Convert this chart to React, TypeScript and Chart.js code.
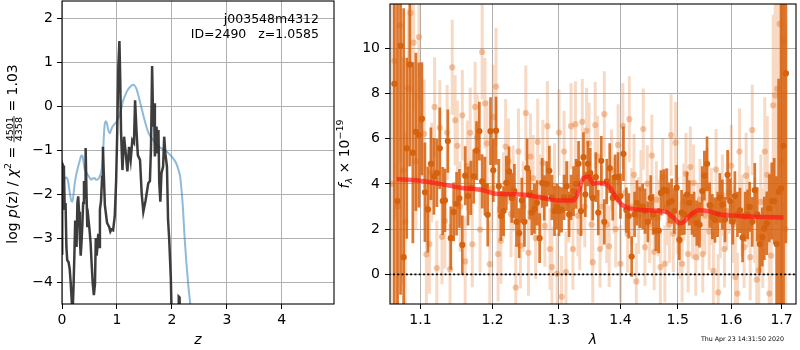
import React, { useEffect, useRef } from "react";
import { Chart, registerables } from "chart.js";

Chart.register(...registerables);

const FAMILY = "'DejaVu Sans', 'Liberation Sans', sans-serif";

// ---------------- left panel: log p(z) ----------------
const zTicks = [0, 1, 2, 3, 4];
const logpTicks = [-4, -3, -2, -1, 0, 1, 2];
const annotationLines = ["j003548m4312", "ID=2490   z=1.0585"];

const blackZ = [
  0.0, 0.004, 0.02, 0.035, 0.05, 0.065, 0.08, 0.095, 0.12, 0.14, 0.16, 0.18, 0.195, 0.21, 0.225, 0.24, 0.255, 0.265,
  0.28, 0.295, 0.31, 0.325, 0.34, 0.355, 0.37, 0.385, 0.4, 0.41, 0.42, 0.43, 0.445, 0.46, 0.48, 0.5, 0.52, 0.54, 0.56,
  0.58, 0.6, 0.615, 0.63, 0.645, 0.66, 0.675, 0.69, 0.71, 0.73, 0.745, 0.76, 0.78, 0.8, 0.82, 0.84, 0.86, 0.88, 0.9,
  0.93, 0.96, 0.985, 1.005, 1.025, 1.045, 1.06, 1.075, 1.1, 1.13, 1.16, 1.19, 1.22, 1.25, 1.28, 1.31, 1.33, 1.355,
  1.38, 1.42, 1.45, 1.48, 1.52, 1.57, 1.6, 1.62, 1.64, 1.66, 1.675, 1.69, 1.705, 1.72, 1.74, 1.755, 1.77, 1.79, 1.81,
  1.84, 1.86, 1.88, 1.91, 1.93, 1.95, 1.98, 2.0, 2.03, 2.08, 2.115, 2.125, 2.14, 2.15, 2.2,
];
const blackLogP = [
  -3.35, -1.3, -1.35, -1.45, -2.36, -2.2, -3.2, -3.5, -3.55, -3.7, -4.05, -4.5, -4.65, -4.1, -3.4, -2.6, -3.1, -3.2,
  -2.2, -2.05, -2.4, -3.0, -3.4, -3.1, -2.7, -2.2, -1.7, -2.1, -1.8, -0.95, -1.9, -2.75, -2.55, -2.8, -3.1, -3.6, -4.05,
  -4.3, -4.05, -3.0, -3.4, -3.2, -2.9, -3.2, -2.35, -2.15, -1.6, -0.92, -1.5, -2.25, -2.45, -2.65, -2.7, -2.75, -2.85, -2.8,
  -2.82, -2.5, -1.7, -0.6, 0.9, 1.49, 0.6, -0.6, -1.45, -0.69, -1.07, -1.48, -0.92, -1.22, -0.77, -0.83, 0.14, -0.54,
  -1.11, -1.22, -1.98, -2.4, -2.15, -1.75, -1.7, -0.92, 0.92, -0.46, 0.07, -1.14, -0.9, -0.46, -1.07, -0.54, -1.75, -2.17, -1.52,
  -1.37, -0.69, -1.07, -1.37, -2.58, -3.0, -3.9, -5.0, -6.5, -7.0, -5.5, -4.33, -4.35, -5.6, -7.0,
];

const blueZ = [
  0.0, 0.02, 0.05, 0.08, 0.11, 0.14, 0.17, 0.19, 0.21, 0.23, 0.26, 0.29, 0.32, 0.35, 0.37, 0.39, 0.41, 0.44, 0.47, 0.5,
  0.53, 0.56, 0.59, 0.62, 0.66, 0.69, 0.72, 0.745, 0.765, 0.78, 0.8, 0.82, 0.845, 0.87, 0.89, 0.92, 0.96, 1.0, 1.04,
  1.08, 1.11, 1.15, 1.19, 1.23, 1.27, 1.3, 1.33, 1.36, 1.39, 1.42, 1.46, 1.5, 1.54, 1.58, 1.62, 1.66, 1.7, 1.75, 1.8,
  1.87, 1.94, 2.02, 2.08, 2.12, 2.15, 2.17, 2.2, 2.23, 2.26, 2.3, 2.34, 2.37,
];
const blueLogP = [
  -2.05, -1.8, -1.64, -1.62, -1.7, -1.95, -2.15, -2.17, -2.0, -1.77, -1.55, -1.39, -1.25, -1.13, -1.12, -1.25, -1.42,
  -1.5, -1.56, -1.62, -1.67, -1.64, -1.63, -1.67, -1.65, -1.58, -1.45, -1.1, -0.6, -0.39, -0.34, -0.4, -0.55, -0.61,
  -0.55, -0.46, -0.4, -0.33, -0.22, -0.05, 0.12, 0.25, 0.36, 0.43, 0.48, 0.49, 0.46, 0.38, 0.25, 0.1, -0.1, -0.3, -0.48,
  -0.62, -0.7, -0.77, -0.84, -0.9, -0.95, -1.0, -1.07, -1.18, -1.3, -1.45, -1.6, -1.83, -2.3, -2.96, -3.5, -4.1, -4.6, -5.2,
];

// ---------------- right panel: spectrum ----------------
const lamTicks = [1.1, 1.2, 1.3, 1.4, 1.5, 1.6, 1.7];
const fluxTicks = [0, 2, 4, 6, 8, 10];
const timestamp = "Thu Apr 23 14:31:50 2020";

const darkWave = [
  1.066, 1.07, 1.074, 1.078, 1.082, 1.086, 1.09, 1.094, 1.098, 1.102, 1.106, 1.11, 1.114, 1.118, 1.122, 1.126, 1.13,
  1.133, 1.137, 1.141, 1.145, 1.149, 1.153, 1.157, 1.161, 1.165, 1.169, 1.173, 1.177, 1.181, 1.185, 1.189, 1.193, 1.197,
  1.201, 1.205, 1.209, 1.212, 1.216, 1.22, 1.224, 1.228, 1.232, 1.235, 1.239, 1.243, 1.247, 1.251, 1.255, 1.258, 1.262,
  1.266, 1.27, 1.274, 1.277, 1.281, 1.285, 1.289, 1.293, 1.297, 1.3, 1.304, 1.308, 1.312, 1.316, 1.319, 1.323, 1.327,
  1.331, 1.335, 1.339, 1.342, 1.346, 1.35,
  1.354, 1.359, 1.363, 1.368, 1.373, 1.377, 1.382, 1.387, 1.391, 1.396, 1.4, 1.405, 1.41, 1.414, 1.419, 1.424, 1.428,
  1.433, 1.438, 1.442, 1.447, 1.452, 1.456, 1.461, 1.466, 1.47, 1.475, 1.48, 1.484, 1.489, 1.494, 1.498, 1.503, 1.507,
  1.512, 1.517, 1.521, 1.526,
  1.53, 1.535, 1.54, 1.545, 1.549, 1.554, 1.559, 1.564, 1.569, 1.574, 1.578, 1.583, 1.588, 1.593, 1.598, 1.603, 1.607,
  1.612, 1.617, 1.622, 1.627, 1.632, 1.636, 1.641, 1.646, 1.651, 1.656, 1.661, 1.665, 1.67, 1.675, 1.68, 1.685, 1.69,
  1.694, 1.699, 1.704, 1.709,
];
const darkFlux = [
  8.42, 3.24, 10.1, 0.76, 5.57, 9.28, 5.38, 6.3, 6.16, 6.88, 3.63, 2.87, 4.89, 4.33, 4.48, 5.57, 3.24, 3.27, 5.89, 1.6,
  2.76, 3.12, 3.36, 1.3, 4.36, 3.46, 3.82, 4.33, 5.47, 6.33, 4.11, 3.9, 2.63, 6.33,
  4.6, 6.35, 3.9, 2.58, 2.8, 4.04, 4.55, 3.38, 3.68, 2.32, 1.82, 3.27, 2.32, 4.7, 3.53, 2.73, 2.9, 3.16, 1.6, 4.04,
  3.38, 4.0, 4.58, 3.4, 2.8, 3.0, 2.8, 2.85, 3.4, 3.9, 2.65, 3.4, 3.68, 4.0, 4.89, 2.8, 5.18, 3.53, 4.89, 4.48,
  3.38, 4.3, 2.73, 5.02, 2.32, 4.11, 4.7, 3.38, 4.3, 4.3, 3.46, 5.33, 2.84, 2.58, 0.79, 2.65, 3.16, 2.95, 3.0, 2.8,
  2.32, 3.38, 2.65, 1.93, 1.93, 3.6, 3.75, 3.68, 3.16, 3.24, 2.8, 3.83, 1.53, 2.73, 2.65, 3.53, 3.16, 2.65,
  2.65, 2.26, 2.19, 3.68, 4.36, 4.89, 3.06, 2.55, 2.4, 2.65, 3.38, 3.09, 2.42, 4.4, 3.24, 2.32, 3.46, 2.65, 2.83, 1.63,
  2.55, 2.65, 2.98, 2.32, 3.72, 2.65, 1.34, 1.65, 2.03, 2.26, 2.92, 3.24, 3.24, 1.34, 3.65, 3.8, 5.68, 8.88,
];
const darkErr = [
  10, 9, 11, 11, 4, 4.5, 4, 3.5, 3.2, 2.5, 2.2, 1.9, 1.6, 1.7, 1.5, 1.8, 1.5, 1.4, 1.4, 1.4,
  1.3, 1.4, 1.3, 1.3, 1.3, 1.3, 1.2, 1.2, 1.3, 1.3, 1.2, 1.3, 1.4, 1.5,
  1.4, 1.5, 1.2, 1.1, 1.1, 1.2, 1.1, 1.1, 1.2, 1.1, 1.1, 1.0, 1.1, 1.3, 1.1, 1.0, 1.1, 1.0, 1.1, 1.1,
  1.0, 1.0, 1.1, 1.0, 1.1, 1.0, 1.1, 1.0, 1.0, 1.1, 1.0, 1.0, 1.1, 1.1, 1.0, 1.1, 1.1, 1.0, 1.0, 1.1,
  1.0, 1.1, 1.0, 1.1, 1.0, 1.0, 1.1, 1.0, 1.0, 1.1, 1.0, 1.2, 1.0, 1.0, 0.9, 1.0, 1.0, 0.9, 1.0, 1.0,
  0.9, 1.0, 0.9, 0.9, 1.0, 1.0, 0.9, 1.0, 0.9, 1.0, 1.0, 1.0, 0.9, 1.0, 0.9, 1.0, 1.0, 0.9,
  1.0, 1.0, 1.0, 1.1, 1.1, 1.2, 1.0, 1.0, 1.0, 1.0, 1.1, 1.1, 1.0, 1.1, 1.0, 1.0, 1.1, 1.0, 1.0, 1.1,
  1.1, 1.1, 1.1, 1.1, 1.2, 1.2, 1.3, 1.3, 1.4, 1.4, 1.5, 1.7, 1.9, 3.0, 5, 9, 9, 7.5,
];

const lightWave = [
  1.063, 1.066, 1.07, 1.073, 1.077, 1.08, 1.084, 1.087, 1.091, 1.094, 1.098, 1.101, 1.105, 1.108, 1.112, 1.115, 1.119,
  1.122, 1.126, 1.129, 1.133, 1.136, 1.14, 1.143, 1.147, 1.15, 1.154, 1.157, 1.161, 1.164, 1.168, 1.171, 1.175, 1.178,
  1.182, 1.185, 1.189, 1.192, 1.196, 1.199,
  1.201, 1.205, 1.208, 1.212, 1.216, 1.219, 1.223, 1.227, 1.23, 1.234, 1.238, 1.241, 1.245, 1.249, 1.253, 1.256, 1.26,
  1.264, 1.267, 1.271, 1.275, 1.278, 1.282, 1.286, 1.289, 1.293, 1.297, 1.3, 1.304, 1.308, 1.311, 1.315, 1.319, 1.322,
  1.326, 1.33, 1.333, 1.337, 1.341, 1.344, 1.348, 1.352,
  1.354, 1.358, 1.362, 1.366, 1.369, 1.373, 1.377, 1.381, 1.385, 1.389, 1.392, 1.396, 1.4, 1.404, 1.408, 1.412, 1.415,
  1.419, 1.423, 1.427, 1.431, 1.435, 1.439, 1.442, 1.446, 1.45, 1.454, 1.458, 1.462, 1.465, 1.469, 1.473, 1.477, 1.481,
  1.485, 1.488, 1.492, 1.496, 1.5, 1.504, 1.508, 1.511, 1.515, 1.519, 1.523, 1.527,
  1.529, 1.533, 1.537, 1.541, 1.546, 1.55, 1.554, 1.558, 1.562, 1.566, 1.571, 1.575, 1.579, 1.583, 1.587, 1.591, 1.596,
  1.6, 1.604, 1.608, 1.612, 1.616, 1.621, 1.625, 1.629, 1.633, 1.637, 1.641, 1.646, 1.65, 1.654, 1.658, 1.662, 1.666,
  1.671, 1.675, 1.679, 1.683, 1.687, 1.691, 1.696, 1.7, 1.704, 1.708,
];
const lightFlux = [
  4.0, 9.44, 3.0, 11.0, 4.6, 2.33, 8.23, 11.55, 10.24, 5.0, 10.49, 6.8, 6.21, 0.88, 1.34, 4.5, 7.4, 0.28, 6.48, 1.66,
  2.36, 6.27, 0.23, 9.15, 6.81, 5.68, 3.0, 7.03, 0.57, 4.8, 6.26, 1.33, 7.4, 6.05, 1.98, 9.83, 7.56, 5.79, 0.45, 3.8,
  6.96, 8.3, 0.9, 1.49, 3.5, 5.65, 4.99, 2.66, 3.8, -0.58, 5.43, 1.27, 3.0, 7.13, 0.95, 5.21, 4.26, 1.6, 5.86, 3.4,
  4.92, 2.14, 6.55, 1.12, 0.32, 3.9, 0.03, 6.27, -0.99, 5.43, 0.1, 3.2, 6.55, 1.12, 6.64, 2.6, 1.88, 6.74, 3.0, 6.35,
  5.79, 2.2,
  0.54, 6.6, 5.21, 1.12, 3.0, 7.08, 2.2, 1.24, 4.6, 3.5, 2.0, 5.72, 0.47, 6.56, 3.6, 1.78, 6.86, 3.0, 4.4, -0.31,
  2.6, 3.8, 6.42, 1.2, 4.01, 2.2, 5.25, 1.0, 3.3, 2.5, 0.32, 4.3, 0.47, 3.0, 2.2, 6.16, 1.8, 5.82, 2.6, 1.49,
  0.47, 3.2, 4.45, 0.9, 4.74, 2.4,
  4.04, 0.76, 2.3, 3.3, 0.9, 2.6, 3.8, 1.9, 3.0, 0.15, 4.63, -0.8, 2.4, 3.5, 1.12, 2.8, 3.6, 4.8, 2.2, -0.12,
  -0.85, 5.43, 2.6, 1.2, 4.36, 3.0, 0.76, 6.38, 2.4, -0.23, 0.18, 3.2, 1.6, 5.43, 4.4, -0.85, 0.83, 7.47, 7.91, 8.2,
  11.07, 5.0, 10.31, 2.0,
];
const lightErr = [
  9, 7, 7, 6, 5, 4, 3.5, 3.5, 3, 3, 2.8, 2.5, 2.4, 2.2, 2.2, 2.2, 2.2, 2.1, 2.1, 2.1,
  2.1, 2.1, 2.0, 2.1, 2.0, 2.0, 2.0, 2.0, 2.0, 2.0, 2.0, 1.9, 2.0, 1.9, 1.9, 2.1, 2.0, 1.9, 1.9, 1.9,
  2.3, 2.6, 2.1, 1.9, 1.9, 2.1, 1.9, 1.9, 1.9, 1.9, 1.9, 1.9, 2.0, 2.1, 1.9, 1.9, 1.9, 1.8, 1.9, 1.9,
  1.9, 1.8, 2.0, 1.8, 1.8, 1.9, 1.8, 1.9, 1.8, 1.8, 1.8, 1.8, 1.9, 1.8, 1.9, 1.8, 1.7, 1.9, 1.8, 1.9, 1.8, 1.8,
  1.8, 1.9, 1.8, 1.7, 1.8, 1.9, 1.7, 1.8, 1.8, 1.7, 1.7, 1.8, 1.7, 1.9, 1.7, 1.7, 1.9, 1.7, 1.8, 1.7,
  1.7, 1.7, 1.8, 1.7, 1.7, 1.7, 1.8, 1.7, 1.7, 1.7, 1.7, 1.7, 1.7, 1.7, 1.7, 1.8, 1.7, 1.8, 1.7, 1.7,
  1.7, 1.7, 1.8, 1.7, 1.8, 1.7,
  1.7, 1.7, 1.7, 1.8, 1.7, 1.7, 1.8, 1.7, 1.7, 1.7, 1.8, 1.7, 1.7, 1.8, 1.7, 1.7, 1.8, 1.8, 1.7, 1.8,
  1.8, 1.9, 1.8, 1.8, 1.9, 1.8, 1.9, 2.0, 1.9, 2.0, 2.1, 2.1, 2.2, 2.4, 2.6, 3.0, 3.5, 4.0, 5.0, 6.0,
  7.0, 8.0, 8.5, 9.0,
];

const modelWave = [
  1.069, 1.095, 1.126, 1.157, 1.186, 1.205, 1.244, 1.274, 1.299, 1.323, 1.331, 1.339, 1.347, 1.355, 1.36, 1.369, 1.38,
  1.391, 1.402, 1.416, 1.447, 1.479, 1.492, 1.504, 1.513, 1.525, 1.539, 1.555, 1.577, 1.613, 1.657, 1.704,
];
const modelFlux = [
  4.21, 4.16, 4.0, 3.82, 3.72, 3.56, 3.53, 3.38, 3.27, 3.27, 3.68, 4.26, 4.33, 4.0, 4.04, 4.04, 3.9, 3.46, 3.09, 2.92,
  2.83, 2.76, 2.51, 2.25, 2.36, 2.66, 2.83, 2.8, 2.66, 2.58, 2.54, 2.51,
];
const zeroWave = [1.0, 1.8];
const zeroFlux = [0, 0];

// ---------------- helpers ----------------
const fontStr = (size: number, italic = false) => `${italic ? "italic " : ""}${size}px ${FAMILY}`;

const pts = (xs: number[], ys: number[]) => {
  const n = Math.min(xs.length, ys.length);
  const out: { x: number; y: number }[] = [];
  for (let i = 0; i < n; i++) out.push({ x: xs[i], y: ys[i] });
  return out;
};

const bars = (xs: number[], ys: number[], es: number[]) => {
  const n = Math.min(xs.length, ys.length, es.length);
  const out: { x: number; y: number | null }[] = [];
  for (let i = 0; i < n; i++) {
    out.push({ x: xs[i], y: ys[i] - es[i] }, { x: xs[i], y: ys[i] + es[i] }, { x: xs[i], y: null });
  }
  return out;
};

const zeroPad = (s: any) => {
  s.paddingTop = 0;
  s.paddingBottom = 0;
  s.paddingLeft = 0;
  s.paddingRight = 0;
};

const minus = (v: number) => (v < 0 ? "\u2212" + Math.abs(v) : String(v));

const spinesPlugin = {
  id: "spines",
  afterDraw(chart: any) {
    const { ctx, chartArea: a } = chart;
    ctx.save();
    ctx.strokeStyle = "#000";
    ctx.lineWidth = 1.1;
    ctx.strokeRect(a.left, a.top, a.right - a.left, a.bottom - a.top);
    ctx.restore();
  },
};

type Piece = { t: string; size: number; italic?: boolean; dy?: number };

const leftTextPlugin = {
  id: "leftText",
  afterDraw(chart: any) {
    const ctx = chart.ctx as CanvasRenderingContext2D;
    ctx.save();
    ctx.fillStyle = "#000";
    ctx.font = fontStr(12.5);
    ctx.textAlign = "right";
    ctx.textBaseline = "middle";
    ctx.fillText(annotationLines[0], 319, 20);
    ctx.fillText(annotationLines[1], 319, 34.5);

    // rotated y label: log p(z) / chi^2 = 4501/4358 = 1.03
    ctx.translate(17, 154);
    ctx.rotate(-Math.PI / 2);
    ctx.textAlign = "left";
    ctx.textBaseline = "alphabetic";
    const before: Piece[] = [
      { t: "log ", size: 14 },
      { t: "p", size: 14, italic: true },
      { t: "(z) / ", size: 14 },
      { t: "\u03c7", size: 14, italic: true },
      { t: "2", size: 9.5, dy: -6 },
      { t: " = ", size: 14 },
    ];
    const after: Piece[] = [{ t: " = 1.03", size: 14 }];
    const num = "4501";
    const den = "4358";
    const fracSize = 9.5;
    const measure = (p: Piece) => {
      ctx.font = fontStr(p.size, p.italic);
      return ctx.measureText(p.t).width;
    };
    ctx.font = fontStr(fracSize);
    const wn = ctx.measureText(num).width;
    const wd = ctx.measureText(den).width;
    const wf = Math.max(wn, wd) + 2;
    const total = before.reduce((s, p) => s + measure(p), 0) + wf + after.reduce((s, p) => s + measure(p), 0);
    let x = -total / 2;
    const draw = (p: Piece) => {
      const w = measure(p);
      ctx.font = fontStr(p.size, p.italic);
      ctx.fillText(p.t, x, p.dy || 0);
      x += w;
    };
    before.forEach(draw);
    ctx.font = fontStr(fracSize);
    ctx.fillText(num, x + (wf - wn) / 2, -4.5);
    ctx.fillRect(x, -3.4, wf, 0.8);
    ctx.fillText(den, x + (wf - wd) / 2, 5);
    x += wf;
    after.forEach(draw);
    ctx.restore();
  },
};

const rightTextPlugin = {
  id: "rightText",
  afterDraw(chart: any) {
    const ctx = chart.ctx as CanvasRenderingContext2D;
    ctx.save();
    ctx.fillStyle = "#000";
    ctx.font = fontStr(6.3);
    ctx.textAlign = "center";
    ctx.textBaseline = "middle";
    ctx.fillText(timestamp, 408.5, 339.5);

    ctx.translate(15, 154);
    ctx.rotate(-Math.PI / 2);
    ctx.textAlign = "left";
    ctx.textBaseline = "alphabetic";
    const pieces: Piece[] = [
      { t: "f", size: 14, italic: true },
      { t: "\u03bb", size: 9.5, italic: true, dy: 3 },
      { t: " \u00d7 10", size: 14 },
      { t: "\u221219", size: 9.5, dy: -6 },
    ];
    const widths = pieces.map((p) => {
      ctx.font = fontStr(p.size, p.italic);
      return ctx.measureText(p.t).width;
    });
    let x = -widths.reduce((a, b) => a + b, 0) / 2;
    pieces.forEach((p, i) => {
      ctx.font = fontStr(p.size, p.italic);
      ctx.fillText(p.t, x, p.dy || 0);
      x += widths[i];
    });
    ctx.restore();
  },
};

const tickFont = { family: FAMILY, size: 14 };
const gridOpts = { color: "#b0b0b0", lineWidth: 1, tickColor: "#000", tickLength: 5, tickWidth: 1 };

function leftConfig(): any {
  return {
    type: "line",
    data: {
      datasets: [
        {
          data: pts(blackZ, blackLogP),
          borderColor: "rgba(45,45,45,0.92)",
          borderWidth: 2.5,
          pointRadius: 0,
          tension: 0,
        },
        {
          data: pts(blueZ, blueLogP),
          borderColor: "rgba(31,119,180,0.5)",
          borderWidth: 2,
          pointRadius: 0,
          cubicInterpolationMode: "monotone",
        },
      ],
    },
    options: {
      responsive: false,
      animation: false,
      events: [],
      layout: { padding: { top: 1, right: 6, bottom: 0, left: 0 } },
      plugins: { legend: { display: false }, tooltip: { enabled: false } },
      scales: {
        x: {
          type: "linear",
          min: 0,
          max: 4.95,
          afterBuildTicks: (s: any) => {
            s.ticks = zTicks.map((v) => ({ value: v }));
          },
          afterFit: (s: any) => {
            s.height = 46;
            zeroPad(s);
          },
          ticks: { color: "#000", font: tickFont, padding: 3, autoSkip: false, maxRotation: 0, callback: (v: any) => minus(Number(v)) },
          grid: gridOpts,
          border: { display: false },
          title: {
            display: true,
            text: "z",
            color: "#000",
            font: { family: FAMILY, size: 14, style: "italic" },
            padding: { top: 0, bottom: 1 },
          },
        },
        y: {
          type: "linear",
          min: -4.5,
          max: 2.4,
          afterBuildTicks: (s: any) => {
            s.ticks = logpTicks.map((v) => ({ value: v }));
          },
          afterFit: (s: any) => {
            s.width = 62;
            zeroPad(s);
          },
          ticks: { color: "#000", font: tickFont, padding: 4, autoSkip: false, callback: (v: any) => minus(Number(v)) },
          grid: gridOpts,
          border: { display: false },
        },
      },
    },
    plugins: [spinesPlugin, leftTextPlugin],
  };
}

function rightConfig(): any {
  return {
    type: "line",
    data: {
      datasets: [
        {
          data: pts(zeroWave, zeroFlux),
          borderColor: "#000",
          borderWidth: 1.6,
          borderDash: [2, 2.3],
          pointRadius: 0,
        },
        {
          data: pts(modelWave, modelFlux),
          borderColor: "rgba(255,20,20,0.68)",
          borderWidth: 4.5,
          pointRadius: 0,
          cubicInterpolationMode: "monotone",
        },
        {
          data: pts(darkWave, darkFlux),
          showLine: false,
          pointRadius: 3.1,
          pointBorderWidth: 0,
          pointBackgroundColor: "rgba(212,98,14,1)",
        },
        {
          data: bars(darkWave, darkFlux, darkErr),
          borderColor: "rgba(214,96,12,0.85)",
          borderWidth: 2.7,
          pointRadius: 0,
          spanGaps: false,
          borderCapStyle: "butt",
        },
        {
          data: pts(lightWave, lightFlux),
          showLine: false,
          pointRadius: 3.1,
          pointBorderWidth: 0,
          pointBackgroundColor: "rgba(228,128,58,0.45)",
        },
        {
          data: bars(lightWave, lightFlux, lightErr),
          borderColor: "rgba(228,128,58,0.3)",
          borderWidth: 3,
          pointRadius: 0,
          spanGaps: false,
          borderCapStyle: "butt",
        },
      ],
    },
    options: {
      responsive: false,
      animation: false,
      events: [],
      layout: { padding: { top: 1, right: 1, bottom: 0, left: 0 } },
      plugins: { legend: { display: false }, tooltip: { enabled: false } },
      scales: {
        x: {
          type: "logarithmic",
          min: 1.0604,
          max: 1.7299,
          afterBuildTicks: (s: any) => {
            s.ticks = lamTicks.map((v) => ({ value: v }));
          },
          afterFit: (s: any) => {
            s.height = 46;
            zeroPad(s);
          },
          ticks: { color: "#000", font: tickFont, padding: 3, autoSkip: false, maxRotation: 0, callback: (v: any) => Number(v).toFixed(1) },
          grid: gridOpts,
          border: { display: false },
          title: {
            display: true,
            text: "\u03bb",
            color: "#000",
            font: { family: FAMILY, size: 14, style: "italic" },
            padding: { top: 0, bottom: 1 },
          },
        },
        y: {
          type: "linear",
          min: -1.31,
          max: 11.95,
          afterBuildTicks: (s: any) => {
            s.ticks = fluxTicks.map((v) => ({ value: v }));
          },
          afterFit: (s: any) => {
            s.width = 56;
            zeroPad(s);
          },
          ticks: { color: "#000", font: tickFont, padding: 5, autoSkip: false, callback: (v: any) => minus(Number(v)) },
          grid: gridOpts,
          border: { display: false },
        },
      },
    },
    plugins: [spinesPlugin, rightTextPlugin],
  };
}

export default function App() {
  const leftRef = useRef<HTMLCanvasElement>(null);
  const rightRef = useRef<HTMLCanvasElement>(null);
  useEffect(() => {
    const l = new Chart(leftRef.current as HTMLCanvasElement, leftConfig());
    const r = new Chart(rightRef.current as HTMLCanvasElement, rightConfig());
    return () => {
      l.destroy();
      r.destroy();
    };
  }, []);
  return (
    <div style={{ position: "fixed", left: 0, top: 0, width: 800, height: 350, background: "#fff" }}>
      <canvas
        ref={leftRef}
        width={340}
        height={350}
        style={{ position: "absolute", left: 0, top: 0, width: 340, height: 350 }}
      />
      <canvas
        ref={rightRef}
        width={466}
        height={350}
        style={{ position: "absolute", left: 334, top: 0, width: 466, height: 350 }}
      />
    </div>
  );
}
